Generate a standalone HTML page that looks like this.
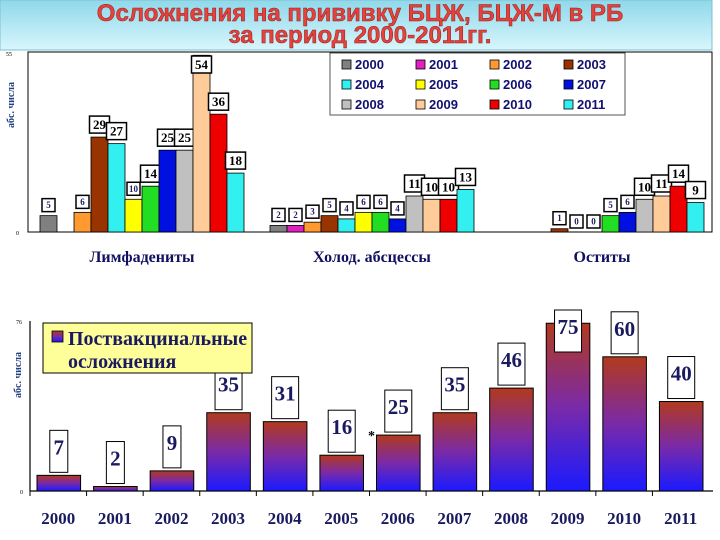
<!DOCTYPE html>
<html><head><meta charset="utf-8">
<style>
html,body{margin:0;padding:0;background:#fff;}
svg{display:block;}
</style></head>
<body>
<svg id="chart" width="720" height="540" viewBox="0 0 720 540" xmlns="http://www.w3.org/2000/svg" font-family="'Liberation Serif', serif">
<defs>
<linearGradient id="hdr" x1="0" y1="0" x2="0" y2="1"><stop offset="0" stop-color="#8fd8ea"/><stop offset="1" stop-color="#d8f6fc"/></linearGradient>
<linearGradient id="bg2" x1="0" y1="0" x2="0" y2="1"><stop offset="0" stop-color="#b23a1e"/><stop offset="0.5" stop-color="#7a2aa8"/><stop offset="1" stop-color="#1a1aff"/></linearGradient>
</defs>
<rect x="0" y="0" width="712" height="50" fill="url(#hdr)" stroke="#7fbfd0"/>
<g font-family="'Liberation Sans', sans-serif" font-weight="bold" font-size="24" text-anchor="middle" fill="#e8403a" stroke="#8a2020" stroke-width="0.5">
<text x="360" y="21">Осложнения на прививку БЦЖ, БЦЖ-М в РБ</text>
<text x="360" y="43">за период 2000-2011гг.</text>
</g>
<g id="topG"></g>
<g id="botG"></g>
</svg>
<script>
const years = ['2000','2001','2002','2003','2004','2005','2006','2007','2008','2009','2010','2011'];
const groups = ['Лимфадениты','Холод. абсцессы','Оститы'];
const lymph = [5,0,6,29,27,10,14,25,25,54,36,18];
const abscess = [2,2,3,5,4,6,6,4,11,10,10,13];
const ostitis = [0,0,0,1,0,0,5,6,10,11,14,9];
const totals = [7,2,9,35,31,16,25,35,46,75,60,40];
const topMax = 55;
const botMax = 76;
const colors = ['#808080','#e020c0','#ff9a30','#993300','#33f0f0','#ffff00','#22dd22','#0010e0','#c0c0c0','#ffcc99','#ee0000','#33f0f0'];
(function(){
const NS='http://www.w3.org/2000/svg';
function mk(parent,tag,attrs,txt){const el=document.createElementNS(NS,tag);for(const k in attrs)el.setAttribute(k,attrs[k]);if(txt!==undefined)el.textContent=txt;parent.appendChild(el);return el;}
let e;
const topG=document.getElementById('topG');
const tX0=28,tX1=712,tY0=52,tBase=232;
const ty=v=>tBase-(v/topMax)*(tBase-tY0);
const gStart=[40,270,500], bw=17;
e=mk(topG,'rect',{x:tX0,y:tY0,width:tX1-tX0,height:tBase-tY0,fill:'#fff',stroke:'#000','stroke-width':1});


e=mk(topG,'text',{x:6,y:tY0+4,'font-size':6,fill:'#000'},String(topMax));


e=mk(topG,'text',{x:16,y:tBase+3,'font-size':6,fill:'#000'},'0');


e=mk(topG,'text',{x:14,y:105,'font-size':10,'font-weight':'bold',fill:'#204080','text-anchor':'middle',transform:'rotate(-90 14 105)'},'абс. числа');


const series=[lymph,abscess,ostitis];
series.forEach((arr,gi)=>{
  arr.forEach((v,i)=>{
    const x=gStart[gi]+i*bw, y=ty(v);
    if(v>0){const r=mk(topG,'rect',{x:x,y:y,width:bw,height:tBase-y,fill:colors[i],stroke:'#000','stroke-width':0.8});
    
    }
    const hideLabel = (gi===2 && i<3) || (gi===0 && i===1);
    if(!hideLabel){
      const big=v>=13||(gi>0&&v>=9);
      const w=big?20:13,h=big?17:13;
      const lx=x+bw/2-w/2, ly=Math.max(tY0+4,y-h-4);
      const b=mk(topG,'rect',{x:lx,y:ly,width:w,height:h,fill:'#fff',stroke:'#000','stroke-width':1.5});
      
      
      const t=mk(topG,'text',{x:x+bw/2,y:ly+h-(big?4:3.5),'font-size':big?13:9,'font-weight':'bold','text-anchor':'middle',fill:big?'#000':'#202060'},String(v));
      
      
    }
  });
  const c=gStart[gi]+bw*6;
  const t=mk(topG,'text',{x:c,y:262,'font-size':16,'font-weight':'bold','text-anchor':'middle',fill:'#101060'},groups[gi]);
  
  
});
const lg=mk(topG,'g',{});


const lb=mk(lg,'rect',{x:330,y:53,width:295,height:62,fill:'#fff',stroke:'#555','stroke-width':1});


years.forEach((yr,i)=>{
  const col=i%4,row=Math.floor(i/4);
  const x=342+col*74,y=58+row*20;
  const s=mk(lg,'rect',{x:x,y:y+2,width:9,height:9,fill:colors[i],stroke:'#000','stroke-width':0.8});
  
  
  const t=mk(lg,'text',{x:x+13,y:y+11,'font-size':13,'font-weight':'bold','font-family':"'Liberation Sans', sans-serif",fill:'#101070'},yr);
  
  
});

const botG=document.getElementById('botG');
const bX0=30,bX1=709,bY0=321,bBase=491;
const slot=(bX1-bX0)/years.length;
const by=v=>bBase-(v/botMax)*(bBase-bY0);
e=mk(botG,'line',{x1:bX0,y1:bY0,x2:bX0,y2:bBase,stroke:'#000','stroke-width':1.2});


e=mk(botG,'line',{x1:bX0,y1:bBase,x2:bX1+4,y2:bBase,stroke:'#000','stroke-width':1.2});


e=mk(botG,'text',{x:16,y:bY0+3,'font-size':6,fill:'#000'},String(botMax));


e=mk(botG,'text',{x:20,y:bBase+3,'font-size':6,fill:'#000'},'0');


e=mk(botG,'text',{x:21,y:375,'font-size':10,'font-weight':'bold',fill:'#204080','text-anchor':'middle',transform:'rotate(-90 21 375)'},'абс. числа');


totals.forEach((v,i)=>{
  const x=bX0+i*slot+7, w=slot-13, y=by(v);
  const tk=mk(botG,'line',{x1:bX0+i*slot,y1:bBase,x2:bX0+i*slot,y2:bBase+5,stroke:'#000'});
  
  
  const r=mk(botG,'rect',{x:x,y:y,width:w,height:bBase-y,fill:'url(#bg2)',stroke:'#000','stroke-width':1});
  
  
  const bwid=v>=10?27:18, bh=42;
  const ly=Math.max(310,y-3-bh);
  const cx=x+w/2;
  const b=mk(botG,'rect',{x:cx-bwid/2,y:ly,width:bwid,height:bh,fill:'#fff',stroke:'#000','stroke-width':1});
  
  
  const t=mk(botG,'text',{x:cx,y:ly+24,'font-size':21,'font-weight':'bold','text-anchor':'middle',fill:'#1a1a60'},String(v));
  
  
  const yl=mk(botG,'text',{x:bX0+i*slot+slot/2,y:524,'font-size':17,'font-weight':'bold','text-anchor':'middle',fill:'#1a1a60'},years[i]);
  
  
});
e=mk(botG,'text',{x:368,y:440,'font-size':14,'font-weight':'bold',fill:'#000'},'*');


const bl=mk(botG,'g',{});


e=mk(bl,'rect',{x:43,y:323,width:209,height:50,fill:'#ffff99',stroke:'#000','stroke-width':1});


e=mk(bl,'rect',{x:52,y:331,width:11,height:11,fill:'url(#bg2)',stroke:'#000','stroke-width':0.8});


e=mk(bl,'text',{x:68,y:345,'font-size':20,'font-weight':'bold',fill:'#1a1a60'},'Поствакцинальные');


e=mk(bl,'text',{x:68,y:368,'font-size':20,'font-weight':'bold',fill:'#1a1a60'},'осложнения');


})();
</script>
</body></html>
